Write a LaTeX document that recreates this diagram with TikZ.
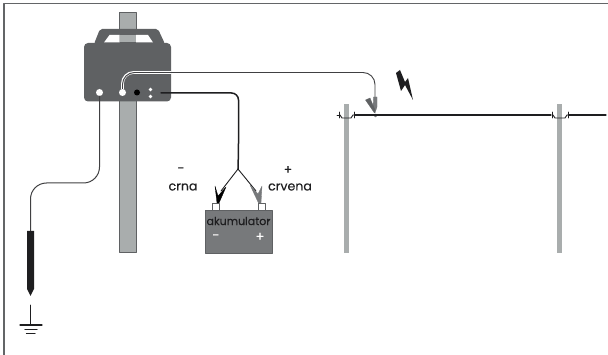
\documentclass[tikz,border=0pt]{standalone}
\usepackage{fontspec}
\setmainfont{Poppins}
\newfontfamily\labelfont{Poppins}[FakeBold=0.25]
\definecolor{devgray}{HTML}{5F6163}
\definecolor{postgray}{HTML}{A9ADAD}
\definecolor{batgray}{HTML}{77797B}
\definecolor{wiredark}{HTML}{1E1E20}
\definecolor{framegray}{HTML}{636567}
\tikzset{
  label text/.style={font=\labelfont\fontsize{12.6}{14}\selectfont,text=wiredark,inner sep=0pt},
  sign text/.style={font=\labelfont\fontsize{13}{14}\selectfont,text=white,inner sep=0pt},
  hole/.style={circle,fill=white,inner sep=0pt,minimum size=#1},
  clip body/.style={fill=#1,draw=#1,line width=0.3pt},
  terminal/.style={draw=devgray,fill=white,line width=0.6pt},
  fence part/.style={wiredark,line width=0.9pt},
}
\begin{document}
\begin{tikzpicture}[line cap=round,line join=round,x=1pt,y=-1pt]
\useasboundingbox (0,0) rectangle (608,355);
% frame
\draw[framegray,line width=1.3pt,line cap=butt] (4,355)-- (4,3.8)-- (608,3.8);
% posts
\fill[postgray] (119.5,12) rectangle (136,252);
\draw[devgray,line width=0.4pt] (119.5,12) rectangle (136,252);
\fill[postgray] (344,104) rectangle (349,253);
\fill[postgray] (557,104) rectangle (562,253);
% device
\fill[devgray,rounded corners=4pt] (84,43)-- (171,43)-- (171,101.5)-- (84,101.5)-- cycle;
\fill[devgray,rounded corners=2pt] (94,44)-- (100,29)-- (158,29)-- (165,44)-- cycle;
\fill[white] (104,42.5)-- (109.5,35)-- (119.5,35)-- (119.5,42.5)-- cycle;
\fill[white] (136,42.5)-- (136,35)-- (148,35)-- (153,42.5)-- cycle;
\fill[postgray] (119.5,35) rectangle (136,42.5);
\node[hole=7pt] (earth) at (99.5,92.5) {};
\node[hole=7pt] (fence) at (122.5,92.5) {};
\node[circle,fill=black,inner sep=0pt,minimum size=6pt] (plug) at (137,92.5) {};
\node[hole=3.6pt] (dota) at (150.5,89.5) {};
\node[hole=3.6pt] (dotb) at (150.5,96.5) {};
\coordinate (batout) at (161,93);
% battery
\node[fill=batgray,draw=devgray,line width=0.5pt,minimum width=67pt,minimum height=43pt,inner sep=0pt] (bat) at (238.5,231.5) {};
\node[font=\labelfont\fontsize{11}{12}\selectfont,text=wiredark,inner sep=0pt] (batname) at (238.5,221) {akumulator};
\node[sign text] (batminus) at (216,237) {-};
\node[sign text] (batplus) at (260,237) {+};
\draw[terminal] (212,203) rectangle (219,210);
\draw[terminal] (258,203) rectangle (265.5,210);
% battery leads and clamps
\coordinate (split) at (238,169);
\draw[wiredark,line width=1.5pt,rounded corners=7pt] (batout)-- (238.5,93)-- (238.5,150)-- (split);
\draw[wiredark,line width=0.9pt] (split)-- (221,191);
\draw[wiredark,line width=0.9pt] (split)-- (256,191);
\fill[clip body=black] (215,186)-- (218,196)-- (226,187)-- (219,203)-- (217,203)-- cycle;
\fill[clip body=batgray] (250,185)-- (258,194)-- (262,186)-- (261,203)-- (258.5,203)-- cycle;
% labels
\node[label text] (minus) at (181,170) {-};
\node[label text] (crna) at (183,187) {crna};
\node[label text] (plus) at (288,170) {+};
\node[label text] (crvena) at (290,187) {crvena};
% fence lead
\draw[white,line width=2.8pt,rounded corners=11pt] (fence.north)-- (122.5,72.5)-- (171,72.5);
\coordinate (fencetop) at (375,98);
\draw[wiredark!85!white,line width=0.9pt,rounded corners=12pt] (fence.north)-- (122.5,72.5)-- (375,72.5)-- (fencetop);
\fill[clip body=batgray] (377,97)-- (373.5,97)-- (373,108)-- (375,113)-- (377,107)-- cycle;
\fill[clip body=devgray] (365.5,100)-- (370,98)-- (375,110)-- (374.5,113)-- cycle;
\node[circle,draw=devgray,fill=white,line width=0.5pt,inner sep=0pt,minimum size=3pt] (grip) at (375.5,115.5) {};
% fence wire
\coordinate (wirea) at (354,115);
\coordinate (wireb) at (551,115);
\coordinate (wirec) at (568,115);
\coordinate (wired) at (606,115);
\draw[wiredark,line width=1.3pt] (wirea)-- (wireb);
\draw[wiredark,line width=1.3pt] (wirec)-- (wired);
\draw[fence part] (337,115)-- (340,115);
\draw[fence part] (339,112)-- (339,118) (354,112)-- (354,118);
\draw[fence part] (340,115)-- (342,118)-- (351,118)-- (353,115);
\draw[fence part] (552,112)-- (552,118) (568,112)-- (568,118);
\draw[fence part] (553,115)-- (555,118)-- (565,118)-- (567,115);
% bolt
\fill[wiredark] (396,73)-- (400,70)-- (405,82)-- (408,78)-- (413,100)-- (405,85)-- (401,91)-- cycle;
% earth lead and rod
\draw[wiredark!85!white,line width=1pt,rounded corners=16pt] (earth.south)-- (99.5,183)-- (30.5,183)-- (30.5,231);
\fill[wiredark] (27,231)-- (34,231)-- (34,289)-- (30.5,296)-- (27,289)-- cycle;
\draw[wiredark,line width=0.9pt] (30.5,305)-- (30.5,325);
\draw[wiredark,line width=1.1pt] (20,325)-- (42,325) (25,329.5)-- (37,329.5) (26.5,333.5)-- (35,333.5);
\end{tikzpicture}
\end{document}
